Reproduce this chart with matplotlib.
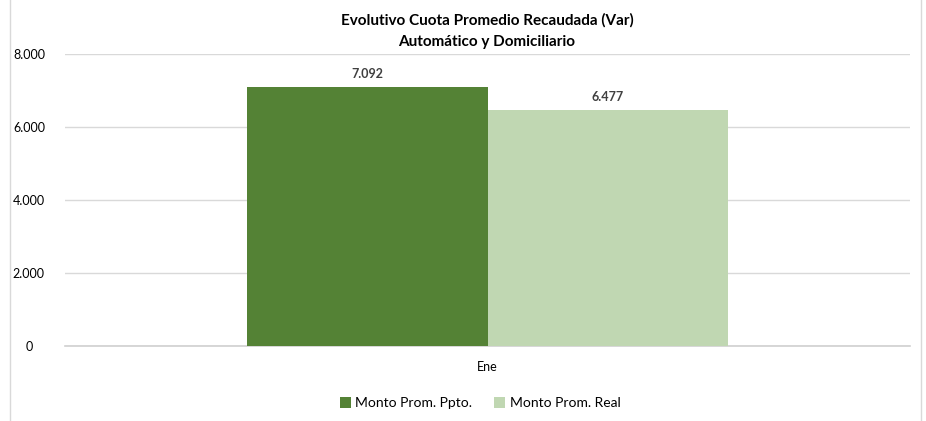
import matplotlib.pyplot as plt
from matplotlib.patches import Rectangle

# Datos del gráfico
categorias = ["Ene"]
series_nombres = ["Monto Prom. Ppto.", "Monto Prom. Real"]
monto_ppto = [7092]
monto_real = [6477]
colores = ["#548235", "#C0D7B2"]

plt.rcParams["font.family"] = ["Lato", "DejaVu Sans"]

fig = plt.figure(figsize=(9.26, 4.21), dpi=100)
ax = fig.add_axes([65 / 926, 75 / 421, 845 / 926, 292 / 421])

ancho = 0.285
x = list(range(len(categorias)))
for i, (valores, nombre, color) in enumerate(zip([monto_ppto, monto_real], series_nombres, colores)):
    pos = [xi + (i - 0.5) * ancho for xi in x]
    barras = ax.bar(pos, valores, width=ancho, color=color, label=nombre, zorder=3)
    for b, v in zip(barras, valores):
        ax.annotate(f"{v:,}".replace(",", "."), (b.get_x() + b.get_width() / 2, v),
                    xytext=(0, 5), textcoords="offset points", ha="center", va="bottom",
                    fontsize=9, fontweight="bold", color="#404040")

ax.set_xlim(-0.5, 0.5)
ax.set_ylim(0, 8000)
ax.set_yticks([0, 2000, 4000, 6000, 8000])
ax.set_yticklabels(["0", "2.000", "4.000", "6.000", "8.000"])
ax.set_xticks(x)
ax.set_xticklabels(categorias)
ax.tick_params(axis="both", length=0, labelsize=9, colors="#000000")
ax.tick_params(axis="x", pad=11)
ax.tick_params(axis="y", pad=26)
for lbl in ax.get_yticklabels():
    lbl.set_horizontalalignment("center")
ax.grid(axis="y", color="#D9D9D9", linewidth=1, zorder=0)
for s in ["top", "right", "left"]:
    ax.spines[s].set_visible(False)
ax.spines["bottom"].set_color("#D0D0D0")
ax.spines["bottom"].set_linewidth(1.2)

fig.text(487 / 926, 1 - 20 / 421, "Evolutivo Cuota Promedio Recaudada (Var)", ha="center", va="center",
         fontsize=11, fontweight="bold")
fig.text(487 / 926, 1 - 42 / 421, "Automático y Domiciliario", ha="center", va="center",
         fontsize=11, fontweight="bold")

fig.legend(loc="center", bbox_to_anchor=(480 / 926, 1 - 403 / 421), ncol=2, frameon=False,
           fontsize=10, handlelength=0.8, handleheight=0.8, handletextpad=0.3, columnspacing=1.6)

# Borde del área del gráfico
fig.patches.append(Rectangle((10 / 926, -0.01), 911 / 926, 1.02, transform=fig.transFigure,
                             fill=False, edgecolor="#D9D9D9", linewidth=1))

fig.savefig("out.png", dpi=100)
